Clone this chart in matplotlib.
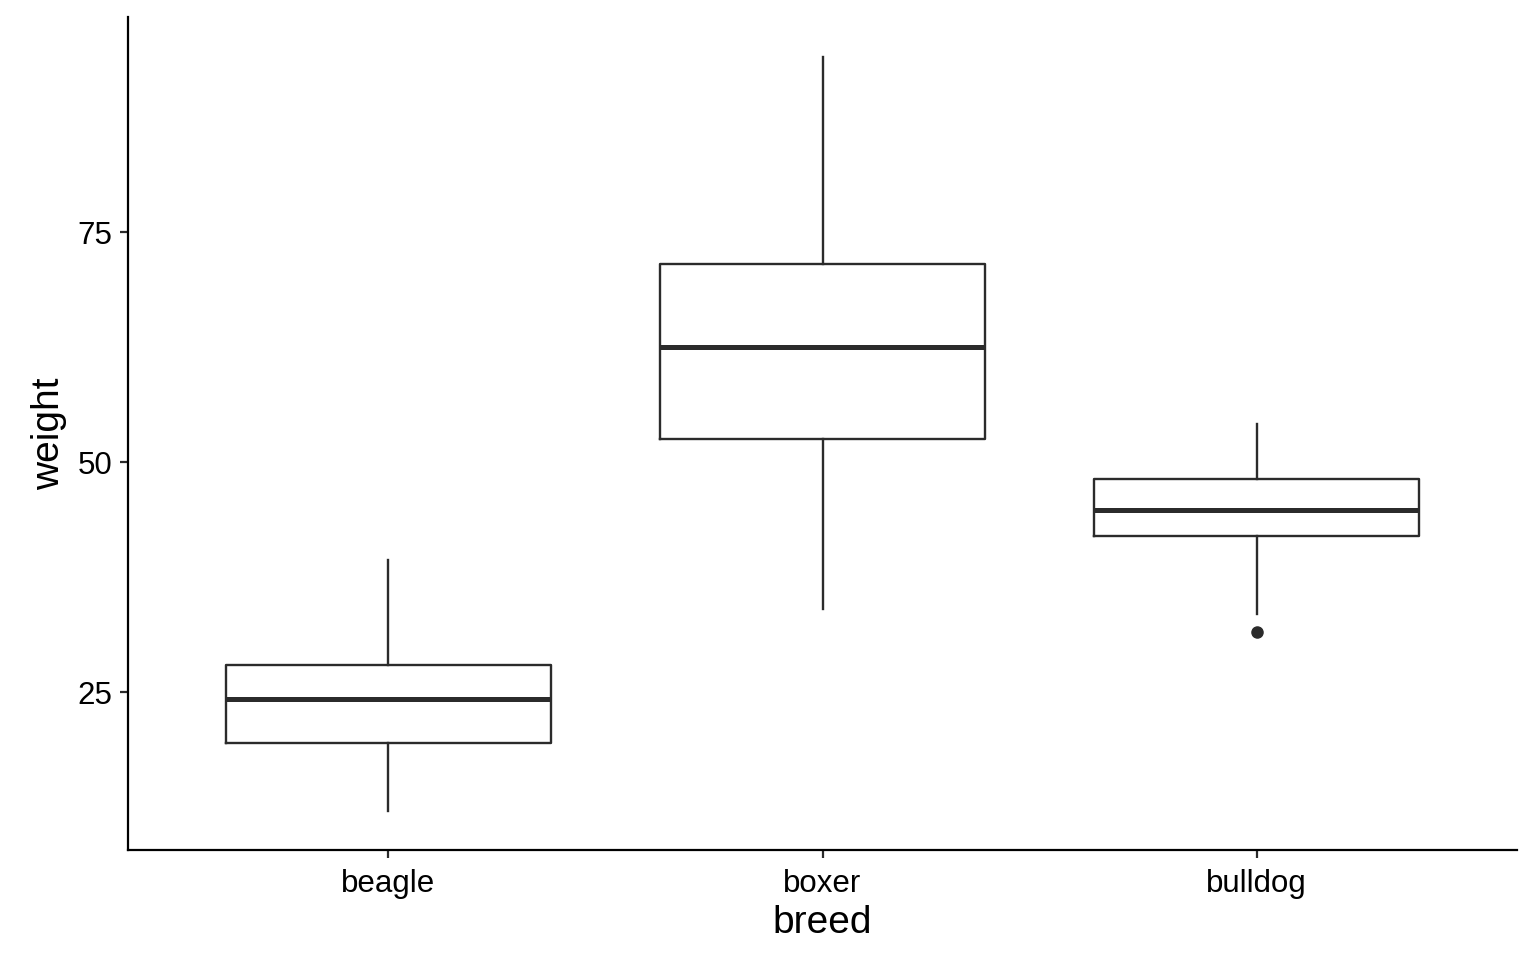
import matplotlib
matplotlib.use("Agg")
import matplotlib.pyplot as plt

plt.rcParams["font.family"] = ["Liberation Sans", "DejaVu Sans"]

breeds = ["beagle", "boxer", "bulldog"]
whisker_low = [12.1, 34.0, 33.5]
q1 = [19.5, 52.5, 42.0]
median = [24.2, 62.5, 44.8]
q3 = [27.9, 71.5, 48.2]
whisker_high = [39.4, 94.0, 54.1]
outliers = [[], [], [31.5]]

stats = []
for i, name in enumerate(breeds):
    stats.append({
        "label": name,
        "whislo": whisker_low[i],
        "q1": q1[i],
        "med": median[i],
        "q3": q3[i],
        "whishi": whisker_high[i],
        "fliers": outliers[i],
    })

line_col = "#2b2b2b"
fig = plt.figure(figsize=(15.36, 9.6), dpi=100)
ax = fig.add_axes([128 / 1536, 1 - 850 / 960, (1517 - 128) / 1536, (850 - 17) / 960])

ax.bxp(
    stats,
    positions=[1, 2, 3],
    widths=0.75,
    showcaps=False,
    boxprops=dict(color=line_col, linewidth=1.7),
    whiskerprops=dict(color=line_col, linewidth=1.7),
    medianprops=dict(color=line_col, linewidth=3.6, solid_capstyle="butt"),
    flierprops=dict(marker="o", markerfacecolor=line_col, markeredgecolor=line_col,
                    markersize=8),
)

ax.set_xlim(0.4, 3.6)
ax.set_ylim(7.83, 98.37)
ax.set_yticks([25, 50, 75])
ax.set_xticks([1, 2, 3])
ax.set_xticklabels(breeds)

for s in ["top", "right"]:
    ax.spines[s].set_visible(False)
for s in ["left", "bottom"]:
    ax.spines[s].set_linewidth(1.6)
    ax.spines[s].set_color("black")

ax.tick_params(axis="both", length=6, width=1.6, color=line_col, labelsize=22.5,
               labelcolor="black")
ax.tick_params(axis="x", pad=8)
ax.tick_params(axis="y", pad=5)
ax.set_xlabel("breed", fontsize=28, labelpad=4)
ax.set_ylabel("weight", fontsize=28, labelpad=8)

fig.savefig("out.png", dpi=100)
